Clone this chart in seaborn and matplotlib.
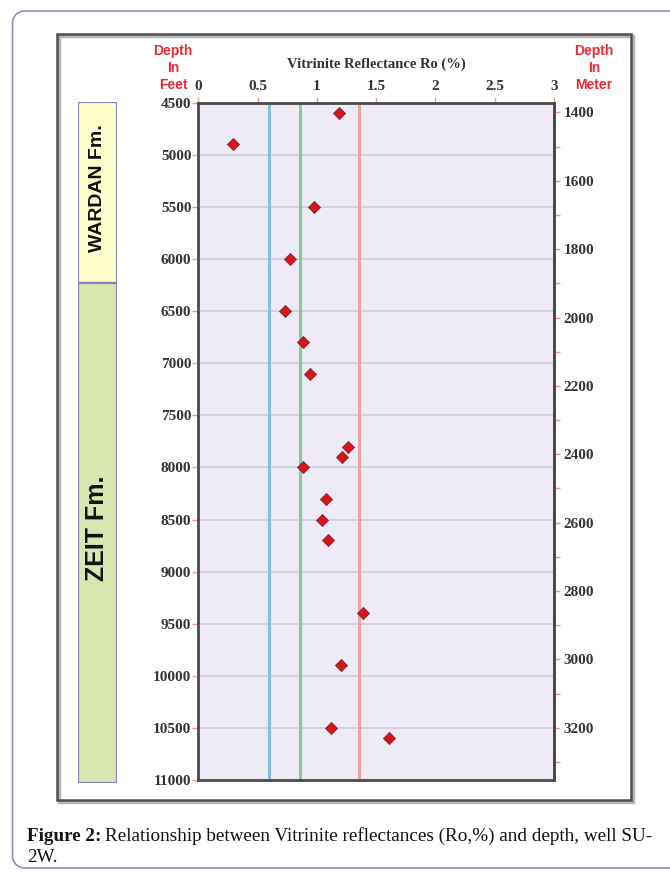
import numpy as np
import pandas as pd
import matplotlib
matplotlib.use("Agg")
import matplotlib.pyplot as plt
import seaborn as sns
from matplotlib.patches import Rectangle
from matplotlib.lines import Line2D
from matplotlib.transforms import IdentityTransform
from matplotlib.ticker import FixedLocator, MultipleLocator

# ---- data ----
depth_ft = [4600, 4900, 5500, 6000, 6500, 6800, 7100, 7800, 7900, 8000,
            8300, 8500, 8700, 9400, 9900, 10500, 10600]
ro_pct = [1.19, 0.29, 0.98, 0.77, 0.73, 0.88, 0.94, 1.26, 1.21, 0.88,
          1.08, 1.04, 1.09, 1.39, 1.20, 1.12, 1.61]

threshold_ro = [0.60, 0.86, 1.355]
threshold_colors = ["#86bde0", "#86c8a0", "#eba2a4"]

formation_names = ["WARDAN Fm.", "ZEIT Fm."]
formation_top = [4500, 6230]
formation_base = [6230, 11000]
formation_colors = ["#ffffcc", "#d7e7af"]
formation_fontsize = [14, 18]

depth_ticks = [4500, 5000, 5500, 6000, 6500, 7000, 7500, 8000, 8500,
               9000, 9500, 10000, 10500, 11000]
ro_ticks = [0, 0.5, 1, 1.5, 2, 2.5, 3]
ro_labels = ["0", "0.5", "1", "1.5", "2", "2.5", "3"]
meter_ticks = [1400, 1600, 1800, 2000, 2200, 2400, 2600, 2800, 3000, 3200]

df = pd.DataFrame({"depth": depth_ft, "ro": ro_pct})

sns.set_theme(style="white")
plt.rcParams["font.family"] = ["Liberation Serif", "DejaVu Serif"]

W, H = 670, 872
fig = plt.figure(figsize=(W / 100, H / 100), dpi=100)
fig.patch.set_facecolor("white")

# outer rounded border, open on the right (runs off the page)
r = 12
x0, top, bot = 12.5, H - 11, 4
t1 = np.linspace(np.pi / 2, np.pi, 12)
t2 = np.linspace(np.pi, 1.5 * np.pi, 12)
bx = np.concatenate([[W + 5], x0 + r + r * np.cos(t1), x0 + r + r * np.cos(t2), [W + 5]])
by = np.concatenate([[top], top - r + r * np.sin(t1), bot + r + r * np.sin(t2), [bot]])
fig.add_artist(Line2D(bx, by, transform=IdentityTransform(), color="#8f8fbf",
                      linewidth=1.2))

# chart frame with a soft shadow
shadow = Rectangle((59, H - 802), 574, 766, transform=IdentityTransform(),
                   facecolor="none", edgecolor="#b5b5b5", linewidth=2.5)
frame = Rectangle((57, H - 800), 574, 766, transform=IdentityTransform(),
                  facecolor="none", edgecolor="#505050", linewidth=1.8)
fig.patches.extend([shadow, frame])

ax_left, ax_w = 198.3 / W, (554 - 198.3) / W
ax_bot, ax_h = 1 - 780 / H, (780 - 102.7) / H
ax = fig.add_axes([ax_left, ax_bot, ax_w, ax_h])
ax.set_facecolor("#eeebf6")

for v in depth_ticks[1:-1]:
    ax.axhline(v, color="#cfcdda", linewidth=1.2, zorder=0)

for x, c in zip(threshold_ro, threshold_colors):
    ax.axvline(x, color=c, linewidth=2.2, zorder=1)

sns.scatterplot(data=df, x="ro", y="depth", ax=ax, marker="D", s=38,
                color="#d81414", edgecolor="#7a2a40", linewidth=0.6, zorder=3)

ax.set_xlim(0, 3)
ax.set_ylim(11000, 4500)
ax.set_xlabel("")
ax.set_ylabel("")
ax.xaxis.tick_top()
ax.xaxis.set_major_locator(FixedLocator(ro_ticks))
ax.set_xticklabels(ro_labels)
ax.yaxis.set_major_locator(FixedLocator(depth_ticks))
ax.set_yticklabels([str(d) for d in depth_ticks])
ax.tick_params(axis="x", top=True, bottom=False, length=4, width=1,
               color="#ef9a9a", pad=3, labelsize=11, labelcolor="#333333")
ax.tick_params(axis="y", left=True, length=4, width=1, color="#ef9a9a",
               pad=1, labelsize=11, labelcolor="#333333")
for lab in ax.get_xticklabels() + ax.get_yticklabels():
    lab.set_fontweight("bold")
for s in ax.spines.values():
    s.set_color("#4a4a4a")
    s.set_linewidth(2)
    s.set_visible(True)

# depth in meters on the right
sec = ax.secondary_yaxis("right", functions=(lambda f: f * 0.3048, lambda m: m / 0.3048))
sec.yaxis.set_major_locator(FixedLocator(meter_ticks))
sec.yaxis.set_minor_locator(MultipleLocator(100))
sec.set_yticklabels([str(m) for m in meter_ticks])
sec.tick_params(which="both", length=4, width=1, color="#ef9a9a", pad=3,
                labelsize=11, labelcolor="#333333")
for lab in sec.get_yticklabels():
    lab.set_fontweight("bold")
sec.spines["right"].set_color("#4a4a4a")
sec.spines["right"].set_linewidth(2)

ax.text(0.5, 1.057, "Vitrinite Reflectance Ro (%)", transform=ax.transAxes,
        ha="center", va="center", fontsize=10.5, fontweight="bold", color="#333333")

red = "#ea2a30"
fig.text(173 / W, 1 - 68 / H, "Depth\nIn\nFeet", ha="center", va="center",
         color=red, fontsize=10, fontweight="bold", family=["Liberation Sans"],
         linespacing=1.25)
fig.text(594 / W, 1 - 68 / H, "Depth\nIn\nMeter", ha="center", va="center",
         color=red, fontsize=10, fontweight="bold", family=["Liberation Sans"],
         linespacing=1.25)

# formation column
ax_f = fig.add_axes([77.7 / W, 1 - 782.7 / H, (117.3 - 77.7) / W, (782.7 - 102) / H])
ax_f.set_xlim(0, 1)
ax_f.set_ylim(11000, 4500)
for name, ftop, fbase, col, fs in zip(formation_names, formation_top, formation_base,
                                      formation_colors, formation_fontsize):
    ax_f.add_patch(Rectangle((0, ftop), 1, fbase - ftop, facecolor=col,
                             edgecolor="#8b80c0", linewidth=1.6))
    ax_f.text(0.5, (ftop + fbase) / 2 - 40, name, rotation=90, ha="center",
              va="center", fontsize=fs, fontweight="bold",
              family=["Liberation Sans"], color="#111111")
ax_f.axis("off")

# caption
cap_y1 = 1 - 836 / H
cap_y2 = 1 - 857 / H
t_bold = fig.text(27 / W, cap_y1, "Figure 2:", ha="left", va="center",
                  fontsize=13.8, fontweight="bold", color="#111111")
fig.canvas.draw()
bb = t_bold.get_window_extent()
fig.text((bb.x1 + 4) / W, cap_y1,
         "Relationship between Vitrinite reflectances (Ro,%) and depth, well SU-",
         ha="left", va="center", fontsize=13.8, color="#111111")
fig.text(27 / W, cap_y2, "2W.", ha="left", va="center", fontsize=13.8, color="#111111")

fig.savefig("out.png", dpi=100)
